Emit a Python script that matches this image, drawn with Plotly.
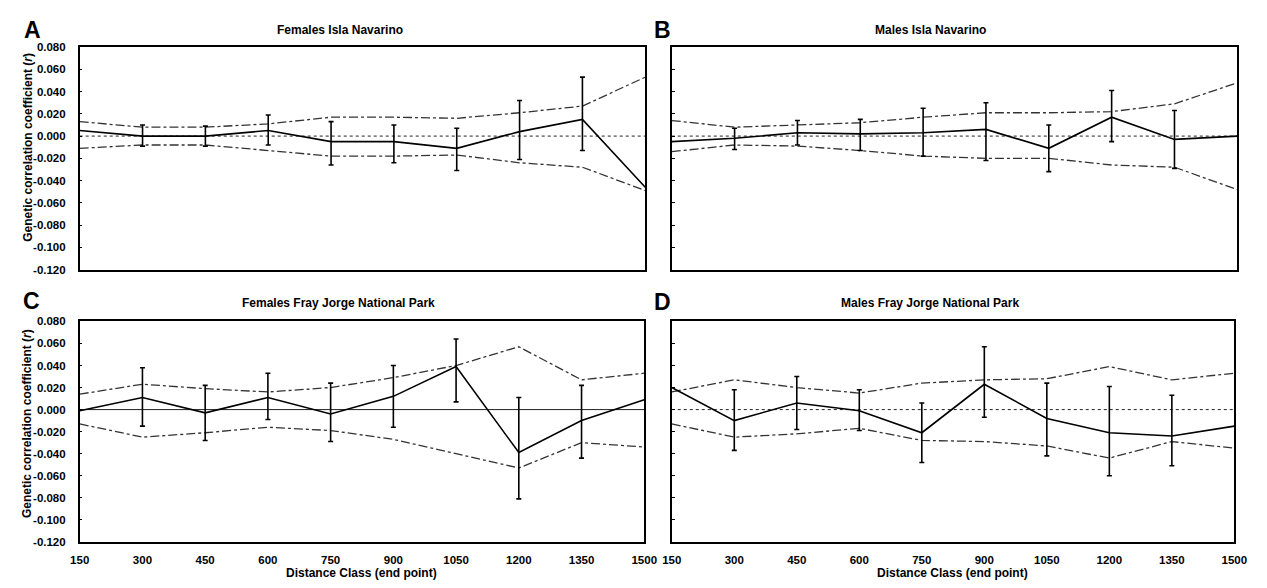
import plotly.graph_objects as go

# ---------------- data ----------------
distance = [150, 300, 450, 600, 750, 900, 1050, 1200, 1350, 1500]
ytick_vals = [0.08, 0.06, 0.04, 0.02, 0.0, -0.02, -0.04, -0.06, -0.08, -0.10, -0.12]
ytick_text = ["0.080", "0.060", "0.040", "0.020", "0.000", "-0.020", "-0.040",
              "-0.060", "-0.080", "-0.100", "-0.120"]
xtick_text = ["150", "300", "450", "600", "750", "900", "1050", "1200", "1350", "1500"]

# A: Females Isla Navarino
a_r = [0.005, 0.000, 0.000, 0.005, -0.005, -0.005, -0.011, 0.004, 0.015, -0.046]
a_upper = [0.013, 0.008, 0.008, 0.011, 0.017, 0.017, 0.016, 0.021, 0.027, 0.053]
a_lower = [-0.011, -0.008, -0.008, -0.013, -0.018, -0.018, -0.017, -0.024, -0.028, -0.049]
a_err_hi = [0.010, 0.009, 0.019, 0.013, 0.010, 0.007, 0.032, 0.053]
a_err_lo = [-0.009, -0.009, -0.008, -0.026, -0.024, -0.031, -0.021, -0.013]

# B: Males Isla Navarino
b_r = [-0.005, -0.002, 0.003, 0.002, 0.003, 0.006, -0.011, 0.017, -0.003, 0.000]
b_upper = [0.014, 0.008, 0.010, 0.012, 0.017, 0.021, 0.021, 0.022, 0.029, 0.048]
b_lower = [-0.014, -0.008, -0.009, -0.013, -0.018, -0.020, -0.020, -0.026, -0.028, -0.048]
b_err_hi = [0.007, 0.014, 0.015, 0.025, 0.030, 0.010, 0.041, 0.023]
b_err_lo = [-0.012, -0.008, -0.013, -0.018, -0.022, -0.032, -0.005, -0.029]

# C: Females Fray Jorge National Park
c_r = [-0.001, 0.011, -0.003, 0.011, -0.004, 0.012, 0.039, -0.039, -0.010, 0.009]
c_upper = [0.014, 0.023, 0.019, 0.016, 0.020, 0.029, 0.040, 0.057, 0.027, 0.033]
c_lower = [-0.013, -0.025, -0.021, -0.016, -0.019, -0.027, -0.040, -0.053, -0.030, -0.034]
c_err_hi = [0.038, 0.022, 0.033, 0.024, 0.040, 0.064, 0.011, 0.022]
c_err_lo = [-0.015, -0.028, -0.009, -0.029, -0.016, 0.007, -0.081, -0.044]

# D: Males Fray Jorge National Park
d_r = [0.020, -0.010, 0.006, -0.001, -0.021, 0.023, -0.008, -0.021, -0.024, -0.015]
d_upper = [0.016, 0.027, 0.020, 0.015, 0.024, 0.027, 0.028, 0.039, 0.027, 0.033]
d_lower = [-0.013, -0.025, -0.022, -0.017, -0.028, -0.029, -0.033, -0.044, -0.029, -0.035]
d_err_hi = [0.018, 0.030, 0.018, 0.006, 0.057, 0.024, 0.021, 0.013]
d_err_lo = [-0.037, -0.018, -0.019, -0.048, -0.007, -0.042, -0.060, -0.051]

titles = ["Females Isla Navarino", "Males Isla Navarino",
          "Females Fray Jorge National Park", "Males Fray Jorge National Park"]
letters = ["A", "B", "C", "D"]

FONT = "Liberation Sans, Arial, sans-serif"
W, H = 1267, 588

panels = [
    (a_r, a_upper, a_lower, a_err_hi, a_err_lo, "dot"),
    (b_r, b_upper, b_lower, b_err_hi, b_err_lo, "dot"),
    (c_r, c_upper, c_lower, c_err_hi, c_err_lo, "solid"),
    (d_r, d_upper, d_lower, d_err_hi, d_err_lo, "dot"),
]

# pixel boxes (left, right, top, bottom)
boxes = [(71, 647, 42, 269), (674, 1250, 42, 269), (71, 646, 322, 547), (674, 1247, 322, 547)]

fig = go.Figure()
layout = dict(width=W, height=H, margin=dict(l=0, r=0, t=0, b=0),
              paper_bgcolor="white", plot_bgcolor="white", showlegend=False,
              font=dict(family=FONT, color="black", size=11))
annotations = []

for i, (r, up, lo, ehi, elo, zdash) in enumerate(panels):
    n = i + 1
    xa = "x" if n == 1 else f"x{n}"
    ya = "y" if n == 1 else f"y{n}"
    L, R, T, B = boxes[i]
    layout["xaxis" if n == 1 else f"xaxis{n}"] = dict(
        domain=[L / W, R / W], range=[150, 1500], anchor=ya,
        showline=True, linecolor="black", linewidth=1.5, mirror=True,
        showgrid=False, zeroline=False, ticks="",
        tickvals=distance, ticktext=[f"<b>{t}</b>" for t in xtick_text],
        showticklabels=(n >= 3), ticklabelstandoff=7,
        tickfont=dict(family=FONT, size=11.5, color="black"))
    layout["yaxis" if n == 1 else f"yaxis{n}"] = dict(
        domain=[1 - B / H, 1 - T / H], range=[-0.12, 0.08], anchor=xa,
        showline=True, linecolor="black", linewidth=1.5, mirror=True,
        showgrid=False, zeroline=False, ticks="inside", ticklen=3, tickwidth=1,
        tickcolor="black", tickvals=ytick_vals,
        ticktext=[f"<b>{t}</b>" for t in ytick_text],
        showticklabels=(n in (1, 3)), ticklabelstandoff=10,
        tickfont=dict(family=FONT, size=11.5, color="black"))

    # zero reference line
    fig.add_trace(go.Scatter(x=[distance[0], distance[-1]], y=[0, 0], mode="lines",
                             line=dict(color="#222", width=1, dash=zdash),
                             xaxis=xa, yaxis=ya, hoverinfo="skip"))
    # confidence envelopes
    for env in (up, lo):
        fig.add_trace(go.Scatter(x=distance, y=env, mode="lines",
                                 line=dict(color="#333", width=1.3, dash="dashdot"),
                                 xaxis=xa, yaxis=ya))
    # r line
    fig.add_trace(go.Scatter(x=distance, y=r, mode="lines",
                             line=dict(color="black", width=1.6),
                             xaxis=xa, yaxis=ya))
    # error bars at interior classes
    xs = distance[1:9]
    ys = r[1:9]
    fig.add_trace(go.Scatter(
        x=xs, y=ys, mode="markers", marker=dict(size=1, color="black", opacity=0),
        error_y=dict(type="data", symmetric=False,
                     array=[h - v for h, v in zip(ehi, ys)],
                     arrayminus=[v - l for l, v in zip(elo, ys)],
                     color="black", thickness=1.6, width=2.5),
        xaxis=xa, yaxis=ya))

# titles
title_pos = [(336, 25), (938, 25), (335, 303), (937, 303)]
letter_pos = [(23, 25), (665, 25), (22, 301), (665, 302)]
for t, (x, y) in zip(titles, title_pos):
    annotations.append(dict(text=f"<b>{t}</b>", x=x / W, y=1 - y / H, xref="paper", yref="paper",
                            showarrow=False, xanchor="center", yanchor="middle",
                            font=dict(family=FONT, size=12, color="black")))
for t, (x, y) in zip(letters, letter_pos):
    annotations.append(dict(text=f"<b>{t}</b>", x=x / W, y=1 - y / H, xref="paper", yref="paper",
                            showarrow=False, xanchor="center", yanchor="middle",
                            font=dict(family=FONT, size=23, color="black")))
# y-axis titles
for yc in (144, 426):
    annotations.append(dict(text="<b>Genetic correlation coefficient (<i>r</i>)</b>",
                            x=18 / W, y=1 - yc / H, xref="paper", yref="paper",
                            showarrow=False, textangle=-90, xanchor="center", yanchor="middle",
                            font=dict(family=FONT, size=12, color="black")))
# x-axis titles
for xc in (358, 960):
    annotations.append(dict(text="<b>Distance Class (end point)</b>",
                            x=xc / W, y=1 - 579 / H, xref="paper", yref="paper",
                            showarrow=False, xanchor="center", yanchor="middle",
                            font=dict(family=FONT, size=12, color="black")))

layout["annotations"] = annotations
fig.update_layout(**layout)
fig.write_html("out.html")
